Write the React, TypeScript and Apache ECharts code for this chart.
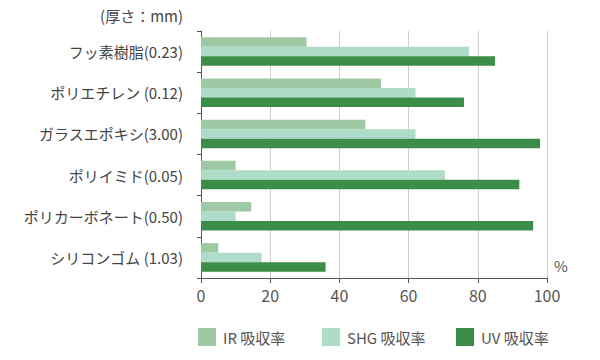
import React, { useEffect, useRef } from "react";
import * as echarts from "echarts";

const categories = [
  "フッ素樹脂(0.23)",
  "ポリエチレン (0.12)",
  "ガラスエポキシ(3.00)",
  "ポリイミド(0.05)",
  "ポリカーボネート(0.50)",
  "シリコンゴム (1.03)",
];
const irValues = [30.5, 52, 47.5, 10, 14.5, 5];
const shgValues = [77.5, 62, 62, 70.5, 10, 17.5];
const uvValues = [85, 76, 98, 92, 96, 36];
const seriesNames = ["IR 吸収率", "SHG 吸収率", "UV 吸収率"];
const xTicks = [0, 20, 40, 60, 80, 100];

const colors = ["#9fc8a4", "#afdcc8", "#3b8d48"];
const FONT = "'Noto Sans CJK JP', 'Noto Sans', sans-serif";

export default function App() {
  const ref = useRef<HTMLDivElement>(null);
  useEffect(() => {
    if (!ref.current) return;
    const chart = echarts.init(ref.current, undefined, { renderer: "svg" });
    const values = [irValues, shgValues, uvValues];
    const legendLefts = [198, 322, 456];
    chart.setOption({
      animation: false,
      textStyle: { fontFamily: FONT },
      grid: { left: 201, right: 53, top: 31, bottom: 82, containLabel: false },
      legend: seriesNames.map((n, i) => ({
        data: [n],
        left: legendLefts[i],
        top: 328,
        padding: 0,
        itemWidth: 18,
        itemHeight: 18,
        icon: "rect",
        itemGap: 0,
        textStyle: { fontFamily: FONT, fontSize: 15, color: "#555", padding: [0, 0, 0, 2] },
      })),
      xAxis: {
        type: "value",
        min: xTicks[0],
        max: xTicks[xTicks.length - 1],
        interval: 20,
        axisLine: { show: true, lineStyle: { color: "#555", width: 1 } },
        axisTick: { show: true, length: 5, lineStyle: { color: "#555" } },
        axisLabel: { fontSize: 16, color: "#555", margin: 9, fontFamily: FONT },
        splitLine: { show: true, lineStyle: { color: "#cfcfcf", width: 1 } },
      },
      yAxis: {
        type: "category",
        inverse: true,
        data: categories,
        axisLine: { show: true, lineStyle: { color: "#555", width: 1 } },
        axisTick: { show: true, length: 4, lineStyle: { color: "#555" } },
        axisLabel: { fontSize: 15, color: "#444", margin: 18, fontFamily: FONT },
      },
      graphic: [
        {
          type: "text",
          right: 417,
          top: 8,
          style: { text: "(厚さ：mm)", font: `15px ${FONT}`, fill: "#444" },
        },
        {
          type: "text",
          left: 554,
          top: 258,
          style: { text: "%", font: `15px ${FONT}`, fill: "#555" },
        },
      ],
      series: seriesNames.map((n, i) => ({
        name: n,
        type: "bar",
        data: values[i],
        barWidth: 9.5,
        barGap: "0%",
        itemStyle: { color: colors[i] },
      })),
    });
    return () => chart.dispose();
  }, []);
  return <div ref={ref} style={{ width: 600, height: 360, position: "absolute", left: 0, top: 0 }} />;
}
